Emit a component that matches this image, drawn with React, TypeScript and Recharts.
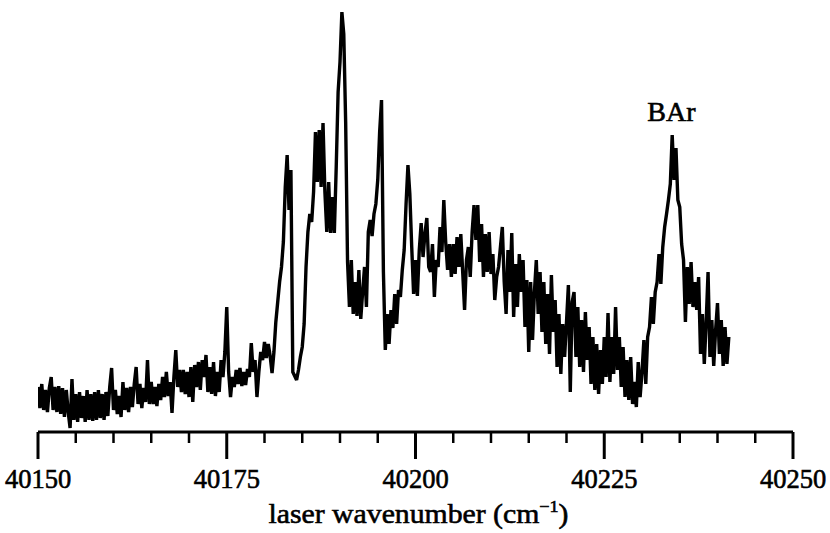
import React from 'react';
import { LineChart, Line, XAxis, YAxis, ReferenceDot } from 'recharts';

const STEP = 0.25;

// 40150.00 .. 40174.75
const REGION_A_START = 40150;
const REGION_A = [
  45, 24, 48, 22,
  42, 20, 44, 55,
  22, 45, 20, 46,
  18, 44, 15, 42,
  20, 4, 53, 12,
  38, 10, 40, 14,
  36, 10, 42, 12,
  38, 11, 40, 12,
  42, 14, 38, 12,
  40, 16, 45, 64,
  22, 42, 18, 36,
  15, 50, 22, 44,
  20, 45, 25, 48,
  65, 28, 48, 24,
  44, 30, 72, 28,
  50, 28, 45, 26,
  48, 32, 55, 35,
  60, 36, 50, 19,
  55, 82, 45, 62,
  40, 62, 38, 60,
  35, 65, 30, 67,
  45, 70, 42, 72,
  55, 77, 40, 65,
  38, 70, 36, 60,
  40, 72, 55, 80,
];

// 40175.00 .. 40199.75
const REGION_B_START = 40175;
const REGION_B = [
  125, 60, 35, 55,
  45, 62, 48, 64,
  46, 60, 47, 63,
  55, 89, 60, 72,
  35, 60, 80, 72,
  90, 74, 88, 76,
  59, 80, 110, 130,
  150, 165, 190, 245,
  277, 222, 262, 60,
  56, 52, 62, 75,
  85, 108, 165, 200,
  218, 210, 240, 300,
  250, 302, 245, 309,
  240, 200, 250, 199,
  235, 199, 265, 340,
  370, 420, 398, 310,
  170, 125, 172, 118,
  150, 116, 162, 113,
  140, 165, 125, 200,
  212, 196, 218, 228,
  252, 300, 332, 160,
  82, 118, 88, 122,
  104, 138, 108, 142,
  135, 162, 182, 228,
  267, 238, 185, 138,
];

// 40200.00 .. 40224.75
const REGION_C_START = 40200;
const REGION_C = [
  172, 136, 182, 209,
  175, 198, 214, 165,
  160, 188, 135, 172,
  165, 205, 180, 232,
  190, 162, 188, 155,
  188, 158, 195, 165,
  198, 160, 122, 172,
  185, 155, 200, 227,
  192, 227, 170, 208,
  155, 198, 160, 200,
  158, 178, 132, 155,
  165, 185, 205, 150,
  118, 182, 140, 199,
  115, 168, 125, 178,
  140, 172, 105, 152,
  80, 150, 92, 140,
  172, 118, 160, 100,
  150, 88, 138, 78,
  157, 100, 132, 65,
  118, 58, 108, 75,
  110, 147, 40, 130,
  140, 75, 125, 65,
  112, 60, 120, 72,
  105, 48, 95, 42,
  88, 38, 82, 48,
];

// 40225.00 .. 40241.50 (BAr band)
const REGION_D_START = 40225;
const REGION_D = [
  95, 55, 119, 50,
  95, 58, 125, 62,
  95, 45, 85, 35,
  72, 32, 75, 28,
  50, 25, 70, 35,
  60, 92, 48, 95,
  105, 135, 108, 140,
  150, 178, 148, 185,
  205, 218, 232, 248,
  297, 252, 284, 232,
  225, 188, 172, 110,
  165, 128, 170, 125,
  150, 122, 155, 78,
  118, 68, 110, 160,
  75, 112, 66, 102,
  129, 78, 112, 66,
  105, 68, 95,
];

const X_DOMAIN: [number, number] = [40150, 40250];
const MAJOR_TICKS = [40150, 40175, 40200, 40225, 40250];
const ALL_TICKS = [
  40150, 40155, 40160, 40165, 40170, 40175, 40180, 40185, 40190, 40195, 40200,
  40205, 40210, 40215, 40220, 40225, 40230, 40235, 40240, 40245, 40250,
];
const Y_DOMAIN: [number, number] = [0, 420];
const AXIS_TITLE = 'laser wavenumber (cm';
const AXIS_TITLE_SUP = '\u22121';
const PEAK_LABEL = 'BAr';
const PEAK_LABEL_X = 40233.9;
const PEAK_LABEL_Y = 320;

const segments = [
  { start: REGION_A_START, values: REGION_A },
  { start: REGION_B_START, values: REGION_B },
  { start: REGION_C_START, values: REGION_C },
  { start: REGION_D_START, values: REGION_D },
];

const data = segments.flatMap((seg) =>
  seg.values.map((v, i) => ({ wn: seg.start + i * STEP, intensity: v }))
);

const FONT = '"Liberation Serif", "Times New Roman", serif';

const AxisTick = (props: any) => {
  const { x, y, payload } = props;
  const v = payload.value as number;
  const major = MAJOR_TICKS.includes(v);
  return (
    <g>
      <line
        x1={x}
        x2={x}
        y1={y}
        y2={y + (major ? 27 : 11)}
        stroke="#000"
        strokeWidth={major ? 3 : 2.5}
      />
      {major && (
        <text
          x={x}
          y={y + 56}
          textAnchor="middle"
          fontFamily={FONT}
          fontSize={26.5}
          fill="#000"
          stroke="#000"
          strokeWidth={0.6}
        >
          {v}
        </text>
      )}
    </g>
  );
};

const AxisTitle = (props: any) => {
  const vb = props.viewBox || { x: 38, y: 432, width: 755 };
  const cx = vb.x + vb.width / 2 + 3;
  return (
    <text
      x={cx}
      y={vb.y + 91}
      textAnchor="middle"
      fontFamily={FONT}
      fontSize={28}
      fill="#000"
      stroke="#000"
      strokeWidth={0.6}
      textLength={300}
      lengthAdjust="spacingAndGlyphs"
    >
      {AXIS_TITLE}
      <tspan dy={-11} fontSize={17}>{AXIS_TITLE_SUP}</tspan>
      <tspan dy={11}>)</tspan>
    </text>
  );
};

const PeakLabel = (props: any) => {
  const vb = props.viewBox || { cx: 0, cy: 0 };
  const cx = vb.cx !== undefined ? vb.cx : vb.x + (vb.width || 0) / 2;
  const cy = vb.cy !== undefined ? vb.cy : vb.y + (vb.height || 0) / 2;
  return (
    <text
      x={cx}
      y={cy + 9}
      textAnchor="middle"
      fontFamily={FONT}
      fontSize={28}
      fill="#000"
      stroke="#000"
      strokeWidth={0.6}
    >
      {PEAK_LABEL}
    </text>
  );
};

export default function App() {
  return (
    <div style={{ position: 'absolute', left: 0, top: 0, background: '#fff' }}>
      <LineChart
        width={830}
        height={533}
        data={data}
        margin={{ top: 12, right: 37, bottom: 0, left: 38 }}
      >
        <XAxis
          dataKey="wn"
          type="number"
          domain={X_DOMAIN}
          ticks={ALL_TICKS}
          interval={0}
          tickSize={0}
          tickMargin={0}
          tickLine={false}
          tick={<AxisTick />}
          axisLine={{ stroke: '#000', strokeWidth: 3 }}
          height={101}
          allowDataOverflow
          label={<AxisTitle />}
        />
        <YAxis hide domain={Y_DOMAIN} allowDataOverflow />
        <Line
          type="linear"
          dataKey="intensity"
          stroke="#000"
          strokeWidth={3.4}
          strokeLinejoin="miter"
          strokeMiterlimit={2}
          dot={false}
          isAnimationActive={false}
        />
        <ReferenceDot
          x={PEAK_LABEL_X}
          y={PEAK_LABEL_Y}
          r={0}
          fill="none"
          stroke="none"
          label={<PeakLabel />}
        />
      </LineChart>
    </div>
  );
}
